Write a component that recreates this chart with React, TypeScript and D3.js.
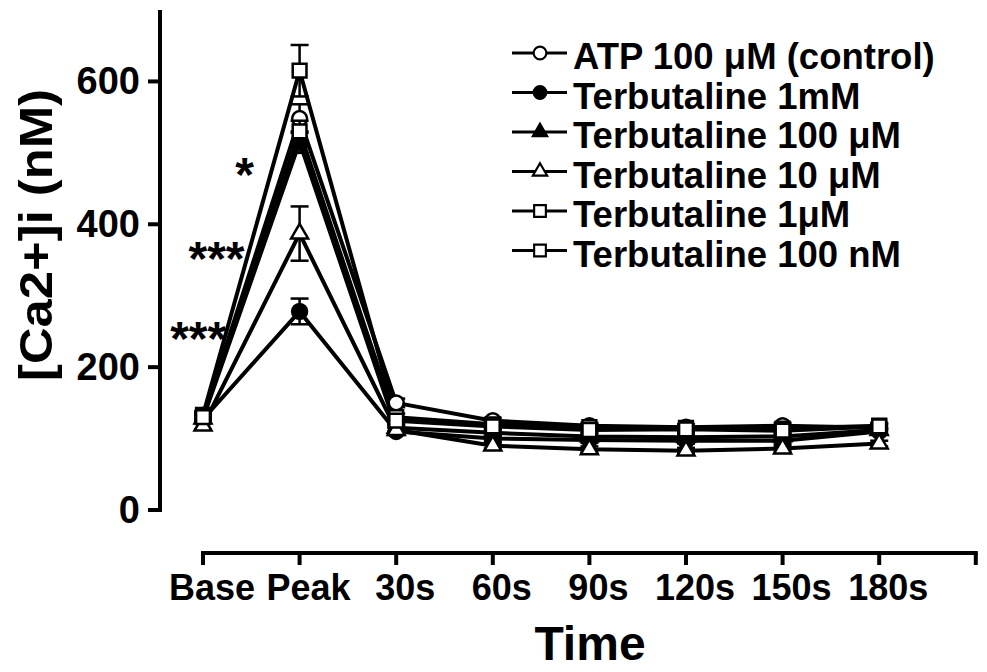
import React from 'react';
import * as d3 from 'd3';

// categories on the x axis
const timePoints = ['Base', 'Peak', '30s', '60s', '90s', '120s', '150s', '180s'];
const yTicks = [0, 200, 400, 600];

// series names (legend order) and their [Ca2+]i values, nM
const seriesNames = [
  'ATP 100 \u03bcM (control)',
  'Terbutaline 1mM',
  'Terbutaline 100 \u03bcM',
  'Terbutaline 10 \u03bcM',
  'Terbutaline 1\u03bcM',
  'Terbutaline 100 nM',
];
const atpControl = [130, 548, 150, 125, 118, 116, 118, 115];
const terb1mM = [127, 278, 110, 100, 98, 97, 97, 110];
const terb100uM = [128, 515, 115, 108, 103, 102, 103, 112];
const terb10uM = [118, 387, 112, 90, 85, 83, 86, 93];
const terb1uM = [133, 615, 130, 120, 116, 115, 114, 118];
const terb100nM = [130, 530, 125, 117, 112, 113, 111, 117];

// SEM values
const atpErr = [5, 20, 6, 4, 4, 4, 4, 4];
const terb1mMErr = [5, 18, 5, 4, 4, 4, 4, 4];
const terb100uMErr = [5, 15, 5, 4, 4, 4, 4, 4];
const terb10uMErr = [5, 38, 5, 4, 4, 4, 4, 4];
const terb1uMErr = [5, 36, 5, 4, 4, 4, 4, 4];
const terb100nMErr = [5, 15, 5, 4, 4, 4, 4, 4];

const markerTypes = ['circle', 'circle', 'triangle', 'triangle', 'square', 'square'];
const markerFilled = [false, true, true, false, false, false];

// significance marks: label, x (in category units), y (nM)
const sigLabels = ['*', '***', '***'];
const sigX = [0.43, 0.14, -0.05];
const sigY = [485, 367, 255];

const seriesValues = [atpControl, terb1mM, terb100uM, terb10uM, terb1uM, terb100nM];
const seriesErrors = [atpErr, terb1mMErr, terb100uMErr, terb10uMErr, terb1uMErr, terb100nMErr];

const FONT = '"Liberation Sans", Arial, Helvetica, sans-serif';

const symbolPath = (type: string) => {
  const sym = type === 'circle' ? d3.symbolCircle : type === 'square' ? d3.symbolSquare : d3.symbolTriangle;
  const size = type === 'circle' ? 175 : type === 'square' ? 190 : 125;
  return d3.symbol().type(sym).size(size)() as string;
};

const App = () => {
  const width = 987;
  const height = 672;

  // x axis drawn separately from the y axis (offset frame)
  const xStart = 203;
  const xStep = 96.6;
  const x = d3.scaleLinear().domain([0, timePoints.length]).range([xStart, xStart + xStep * timePoints.length]);
  const y = d3.scaleLinear().domain([0, 700]).range([510, 10]);
  const yAxisX = 160;
  const xAxisY = 553;

  const line = d3.line<number>()
    .x((_, i) => x(i))
    .y(d => y(d));

  return (
    <svg width={width} height={height} style={{ display: 'block', position: 'absolute', left: 0, top: 0 }} fontFamily={FONT}>
      <rect width={width} height={height} fill="#fff" />

      {/* y axis */}
      <line x1={yAxisX} x2={yAxisX} y1={y(700)} y2={y(0) + 2} stroke="#000" strokeWidth={4} />
      {yTicks.map(t => (
        <g key={t}>
          <line x1={yAxisX - 12} x2={yAxisX} y1={y(t)} y2={y(t)} stroke="#000" strokeWidth={4} />
          <text x={140} y={y(t) + 13} textAnchor="end" fontSize={38} fontWeight="bold">{t}</text>
        </g>
      ))}
      <text
        transform={`translate(52, 235) rotate(-90)`}
        textAnchor="middle"
        fontSize={46}
        fontWeight="bold"
        textLength={292}
        lengthAdjust="spacingAndGlyphs"
      >[Ca2+]i (nM)</text>

      {/* x axis */}
      <line x1={x(0) - 2} x2={x(timePoints.length) + 2} y1={xAxisY} y2={xAxisY} stroke="#000" strokeWidth={4} />
      {d3.range(timePoints.length + 1).map(i => (
        <line key={i} x1={x(i)} x2={x(i)} y1={xAxisY} y2={xAxisY + 12} stroke="#000" strokeWidth={4} />
      ))}
      {timePoints.map((t, i) => (
        <text key={t} x={x(i) + 9} y={600} textAnchor="middle" fontSize={36} fontWeight="bold">{t}</text>
      ))}
      <text x={590} y={660} textAnchor="middle" fontSize={48} fontWeight="bold">Time</text>

      {/* series lines */}
      {seriesValues.map((vals, s) => (
        <path key={`l${s}`} d={line(vals) as string} fill="none" stroke="#000" strokeWidth={4} strokeLinejoin="round" />
      ))}

      {/* error bars and markers */}
      {seriesValues.map((vals, s) => (
        <g key={`m${s}`}>
          {vals.map((v, i) => {
            const e = seriesErrors[s][i];
            return (
              <g key={i}>
                <line x1={x(i)} x2={x(i)} y1={y(v + e)} y2={y(v - e)} stroke="#000" strokeWidth={2.5} />
                <line x1={x(i) - 9} x2={x(i) + 9} y1={y(v + e)} y2={y(v + e)} stroke="#000" strokeWidth={2.5} />
                <line x1={x(i) - 9} x2={x(i) + 9} y1={y(v - e)} y2={y(v - e)} stroke="#000" strokeWidth={2.5} />
                <path
                  d={symbolPath(markerTypes[s])}
                  transform={`translate(${x(i)},${y(v)})`}
                  fill={markerFilled[s] ? '#000' : '#fff'}
                  stroke="#000"
                  strokeWidth={2.5}
                />
              </g>
            );
          })}
        </g>
      ))}

      {/* significance */}
      {sigLabels.map((lab, i) => (
        <text key={i} x={x(sigX[i])} y={y(sigY[i]) + 27} textAnchor="middle" fontSize={48} fontWeight="bold">{lab}</text>
      ))}

      {/* legend */}
      {seriesNames.map((name, s) => {
        const cy = 53 + s * 39.5;
        return (
          <g key={name}>
            <line x1={512} x2={567} y1={cy} y2={cy} stroke="#000" strokeWidth={3} />
            <path
              d={symbolPath(markerTypes[s])}
              transform={`translate(540,${cy}) scale(0.85)`}
              fill={markerFilled[s] ? '#000' : '#fff'}
              stroke="#000"
              strokeWidth={2.5}
            />
            <text x={573} y={cy + 16} fontSize={36.5} fontWeight="bold">{name}</text>
          </g>
        );
      })}
    </svg>
  );
};

export default App;
